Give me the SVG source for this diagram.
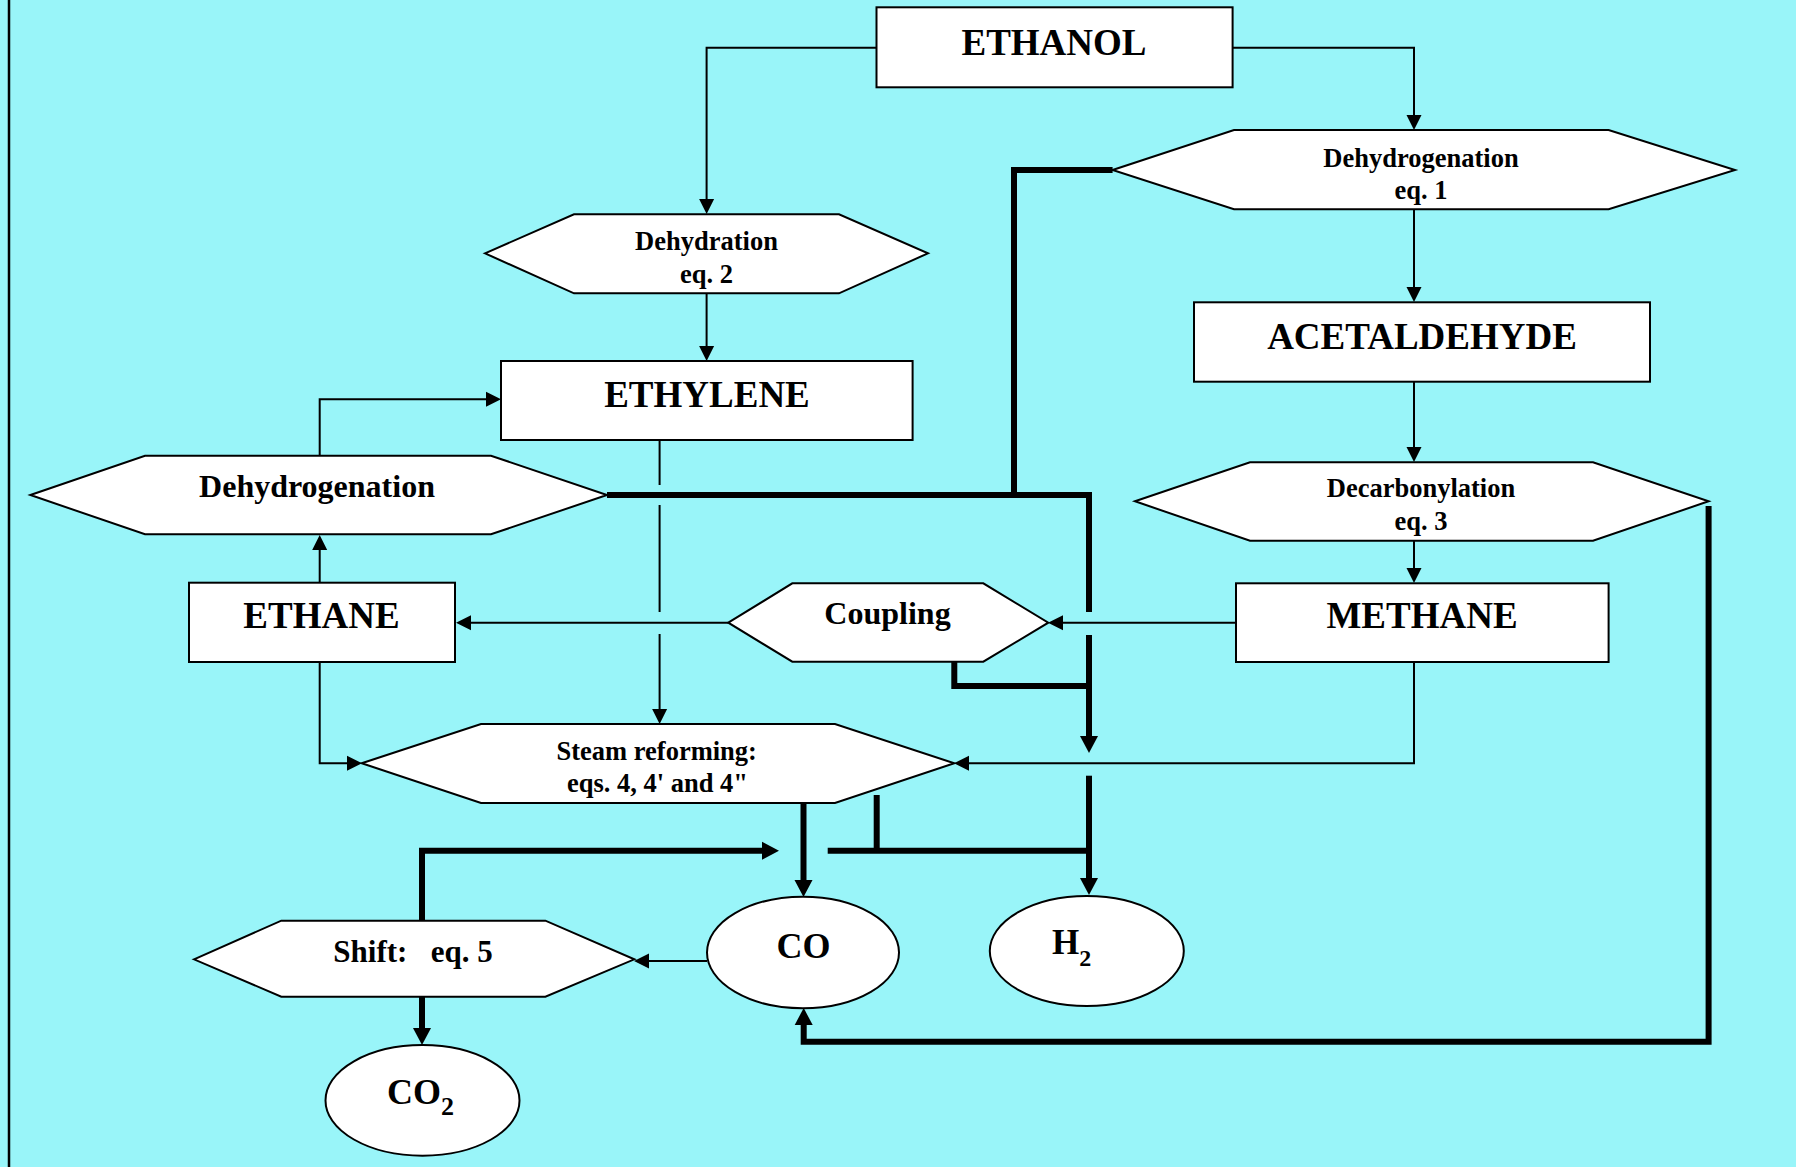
<svg xmlns="http://www.w3.org/2000/svg" width="1796" height="1167" viewBox="0 0 1796 1167">
<style>
.node{fill:#fff;stroke:#000;stroke-width:2}
.t{font-family:"Liberation Serif","Times New Roman",serif;font-weight:bold;fill:#000;text-anchor:middle}
.big{font-size:37px}
.mid{font-size:32px}
.sm{font-size:26.5px}
.thin{fill:none;stroke:#000;stroke-width:2}
.thick{fill:none;stroke:#000;stroke-width:6}
</style>
<defs>
<marker id="a" markerUnits="userSpaceOnUse" markerWidth="15" markerHeight="15" refX="0" refY="7.5" orient="auto" overflow="visible"><path d="M0,0 L15,7.5 L0,15 z" fill="#000"/></marker>
<marker id="A" markerUnits="userSpaceOnUse" markerWidth="17" markerHeight="18" refX="0" refY="9" orient="auto" overflow="visible"><path d="M0,0 L17,9 L0,18 z" fill="#000"/></marker>
</defs>
<rect x="0" y="0" width="1796" height="1167" fill="#99F5F9"/>
<line x1="9" y1="0" x2="9" y2="1167" stroke="#000" stroke-width="2.5"/>

<g id="connectors">
<path class="thin" d="M876.5,47.7 H706.6 V199" marker-end="url(#a)"/>
<path class="thin" d="M1232.6,47.7 H1414 V115" marker-end="url(#a)"/>
<path class="thin" d="M706.6,293.3 V346" marker-end="url(#a)"/>
<path class="thin" d="M1414,209.3 V287" marker-end="url(#a)"/>
<path class="thin" d="M1414,381.7 V447" marker-end="url(#a)"/>
<path class="thin" d="M1414,540.7 V568" marker-end="url(#a)"/>
<path class="thin" d="M319.7,455.7 V399.3 H486" marker-end="url(#a)"/>
<path class="thin" d="M319.7,582.7 V550" marker-end="url(#a)"/>
<path class="thin" d="M728.3,622.7 H471" marker-end="url(#a)"/>
<path class="thin" d="M1236,622.7 H1063" marker-end="url(#a)"/>
<path class="thin" d="M659.6,440 V485 M659.6,505 V612"/>
<path class="thin" d="M659.6,634 V709" marker-end="url(#a)"/>
<path class="thin" d="M319.7,662 V763.3 H347" marker-end="url(#a)"/>
<path class="thin" d="M1414,662 V763.3 H969" marker-end="url(#a)"/>
<path class="thin" d="M707,961 H649" marker-end="url(#a)"/>

<path class="thick" d="M1112.6,170 H1014 V495"/>
<path class="thick" d="M607,495 H1089 V612"/>
<path class="thick" d="M1089,635 V736" marker-end="url(#A)"/>
<path class="thick" d="M954.3,662 V686 H1089"/>
<path class="thick" d="M1089,775.7 V878" marker-end="url(#A)"/>
<path class="thick" d="M803.5,803 V880" marker-end="url(#A)"/>
<path class="thick" d="M876.7,795 V850.7 M827.7,850.7 H1092"/>
<path class="thick" d="M422,920.7 V850.7 H762" marker-end="url(#A)"/>
<path class="thick" d="M422,996.7 V1028" marker-end="url(#A)"/>
<path class="thick" d="M1708.6,506 V1041.7 H803.7 V1025" marker-end="url(#A)"/>
</g>

<g id="ethanol">
<rect class="node" x="876.5" y="7.3" width="356.1" height="80"/>
<text class="t big" x="1054" y="55">ETHANOL</text>
</g>
<g id="dehydration">
<polygon class="node" points="485,253.3 574,214.3 839,214.3 928,253.3 839,293.3 574,293.3"/>
<text class="t sm" x="706.5" y="250">Dehydration</text>
<text class="t sm" x="706.5" y="282.7">eq. 2</text>
</g>
<g id="dehydrogenation1">
<polygon class="node" points="1112.6,170 1234,130 1608.6,130 1735,170 1608.6,209.3 1234,209.3"/>
<text class="t sm" x="1421" y="166.7">Dehydrogenation</text>
<text class="t sm" x="1421" y="199">eq. 1</text>
</g>
<g id="acetaldehyde">
<rect class="node" x="1194" y="302.3" width="456" height="79.4"/>
<text class="t big" x="1422" y="349">ACETALDEHYDE</text>
</g>
<g id="ethylene">
<rect class="node" x="501" y="361" width="411.6" height="79"/>
<text class="t big" x="707" y="406.7">ETHYLENE</text>
</g>
<g id="dehydrogenation2">
<polygon class="node" points="30.4,495 145,455.7 491,455.7 607,495 491,534.3 145,534.3"/>
<text class="t mid" x="317" y="496.7">Dehydrogenation</text>
</g>
<g id="decarbonylation">
<polygon class="node" points="1135,501.3 1250,462.3 1593,462.3 1708.6,501.3 1593,540.7 1250,540.7"/>
<text class="t sm" x="1421" y="497.3">Decarbonylation</text>
<text class="t sm" x="1421" y="530">eq. 3</text>
</g>
<g id="ethane">
<rect class="node" x="189" y="582.7" width="266" height="79.3"/>
<text class="t big" x="321.5" y="628.3">ETHANE</text>
</g>
<g id="coupling">
<polygon class="node" points="728.3,622.7 792.3,583.3 983.3,583.3 1048.3,622.7 983.3,661.7 792.3,661.7"/>
<text class="t mid" x="887.5" y="624">Coupling</text>
</g>
<g id="methane">
<rect class="node" x="1236" y="583.3" width="372.6" height="78.7"/>
<text class="t big" x="1422" y="628.3">METHANE</text>
</g>
<g id="steam">
<polygon class="node" points="361.7,763.3 481,724 835,724 954.3,763.3 835,803 481,803"/>
<text class="t sm" x="656.7" y="760">Steam reforming:</text>
<text class="t sm" x="657.5" y="791.7">eqs. 4, 4' and 4"</text>
</g>
<g id="shift">
<polygon class="node" points="194,959.3 281.3,920.7 545.4,920.7 634.3,959.3 545.4,996.7 281.3,996.7"/>
<text class="t" style="font-size:31px;white-space:pre" x="413" y="961.7" xml:space="preserve">Shift:   eq. 5</text>
</g>
<g id="co">
<ellipse class="node" cx="803" cy="952.5" rx="96" ry="55.8"/>
<text class="t" style="font-size:36px" x="803.5" y="958.3">CO</text>
</g>
<g id="h2">
<ellipse class="node" cx="1086.8" cy="951" rx="97" ry="55"/>
<text class="t" style="font-size:35px;text-anchor:start" x="1052" y="954">H<tspan style="font-size:24px" dy="11.7">2</tspan></text>
</g>
<g id="co2">
<ellipse class="node" cx="422.5" cy="1100.4" rx="97" ry="55.3"/>
<text class="t" style="font-size:36px;text-anchor:start" x="387" y="1104">CO<tspan style="font-size:26px" dy="11">2</tspan></text>
</g>
</svg>
